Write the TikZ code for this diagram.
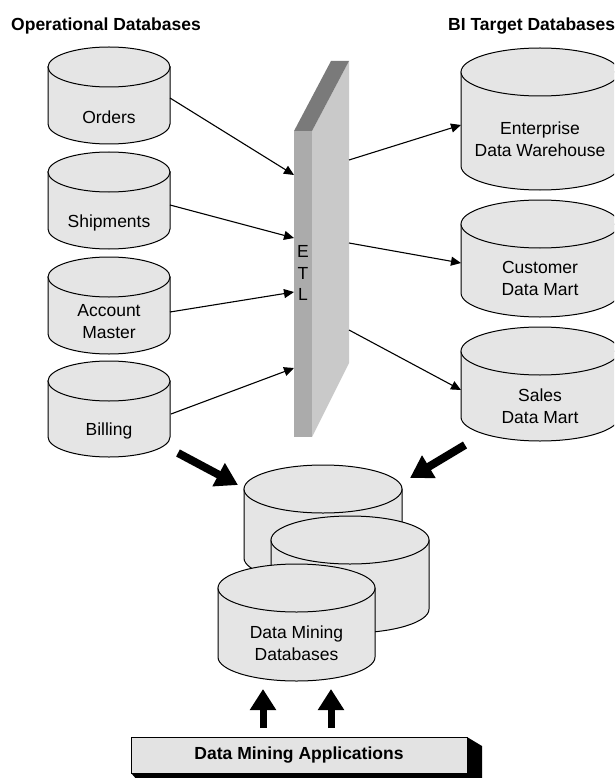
\documentclass[tikz,border=0pt]{standalone}
\usepackage{fontspec}
\setmainfont{Liberation Sans}
\usetikzlibrary{arrows.meta}

\definecolor{dbfill}{gray}{0.90}
\definecolor{wallfront}{gray}{0.67}
\definecolor{wallside}{gray}{0.79}
\definecolor{walltop}{gray}{0.48}
\definecolor{appfill}{gray}{0.89}

\tikzset{
  cylbody/.style={fill=dbfill, draw=black, line width=1pt},
  dblabel/.style={font=\fontsize{17.5}{22}\selectfont, align=center, inner sep=0pt},
  oneline/.style={dblabel, text depth=0pt},
  heading/.style={font=\bfseries\fontsize{17.5}{21}\selectfont, inner sep=0pt, anchor=base west},
  feed/.style={line width=1.1pt, -{Triangle[length=10pt,width=9pt]}},
  bigarrow/.style={line width=8pt, -{Triangle[length=22pt,width=25pt]}},
  uparrow/.style={line width=7pt, -{Triangle[length=21pt,width=25pt]}},
}

% database drum: centre x, top rim y, bottom rim y, x radius, y radius
\newcommand{\dbdrum}[5]{%
  \path[cylbody] (#1-#4,#2) -- (#1-#4,#3)
    arc[start angle=180, end angle=0, x radius=#4, y radius=#5]
    -- (#1+#4,#2) -- cycle;
  \path[cylbody] (#1,#2) ellipse[x radius=#4, y radius=#5];
}

\begin{document}
\begin{tikzpicture}[x=1pt, y=-1pt]
\useasboundingbox (0,0) rectangle (614,778);
\clip (0,0) rectangle (614,778);

% headings
\node[heading] (opTitle) at (11,31) {Operational Databases};
\node[heading] (biTitle) at (448,31) {BI Target Databases};

% operational databases
\dbdrum{109}{67}{124}{61}{20}
\node[oneline] (orders) at (109,117) {Orders};
\dbdrum{109}{172}{229}{61}{20}
\node[oneline] (ship) at (109,221) {Shipments};
\dbdrum{109}{277}{334}{61}{20}
\node[dblabel] (acct) at (109,322) {Account\\Master};
\dbdrum{109}{381}{437}{61}{20}
\node[oneline] (bill) at (109,429) {Billing};

% BI target databases
\dbdrum{540}{72}{166}{79}{24}
\node[dblabel] (edw) at (540,139) {Enterprise\\Data Warehouse};
\dbdrum{540}{224}{293}{79}{24}
\node[dblabel] (cdm) at (540,278) {Customer\\Data Mart};
\dbdrum{540}{351}{417}{79}{24}
\node[dblabel] (sdm) at (540,406.5) {Sales\\Data Mart};

% ETL slab
\fill[wallside] (312,131) -- (349,61) -- (349,363) -- (312,437) -- cycle;
\fill[walltop] (294,131) -- (331,61) -- (349,61) -- (312,131) -- cycle;
\fill[wallfront] (294,131) rectangle (312,437);
\node[dblabel, font=\fontsize{17.5}{21.5}\selectfont] (etl) at (303,273) {E\\T\\L};

% connector end points
\coordinate (ordersOut) at (170,98);
\coordinate (shipOut) at (170,205);
\coordinate (acctOut) at (170,312);
\coordinate (billOut) at (171,414);
\coordinate (etlIn1) at (294,175);
\coordinate (etlIn2) at (294,238);
\coordinate (etlIn3) at (294,292);
\coordinate (etlIn4) at (294,368);
\coordinate (etlOut1) at (349,160);
\coordinate (etlOut2) at (349,243);
\coordinate (etlOut3) at (349,330);
\coordinate (edwIn) at (461,125);
\coordinate (cdmIn) at (461,263);
\coordinate (sdmIn) at (461,390);

\draw[feed] (ordersOut) -- (etlIn1);
\draw[feed] (shipOut) -- (etlIn2);
\draw[feed] (acctOut) -- (etlIn3);
\draw[feed] (billOut) -- (etlIn4);
\draw[feed] (etlOut1) -- (edwIn);
\draw[feed] (etlOut2) -- (cdmIn);
\draw[feed] (etlOut3) -- (sdmIn);

% data mining databases
\dbdrum{323}{489}{558}{79}{24}
\dbdrum{350}{540}{609}{79}{24}
\dbdrum{296.5}{588}{657}{78.5}{24}
\node[dblabel] (dmdb) at (296.5,643.5) {Data Mining\\Databases};

% heavy feed arrows
\coordinate (leftFrom) at (178,453);
\coordinate (leftTo) at (238,485);
\coordinate (rightFrom) at (465,445);
\coordinate (rightTo) at (410,478);
\draw[bigarrow] (leftFrom) -- (leftTo);
\draw[bigarrow] (rightFrom) -- (rightTo);

% applications bar with its dark extrusion
\fill[black] (467,737) -- (482,746) -- (482,790) -- (146,790) -- (131,773) -- cycle;
\node[draw=black, line width=1pt, fill=appfill, minimum width=336pt, minimum height=36pt,
      inner sep=0pt, font=\bfseries\fontsize{17.5}{21}\selectfont] (apps) at (299,755)
      {Data Mining Applications};

\coordinate (upA0) at (263,728);
\coordinate (upA1) at (263,689);
\coordinate (upB0) at (331,728);
\coordinate (upB1) at (331,689);
\draw[uparrow] (upA0) -- (upA1);
\draw[uparrow] (upB0) -- (upB1);
\end{tikzpicture}
\end{document}
